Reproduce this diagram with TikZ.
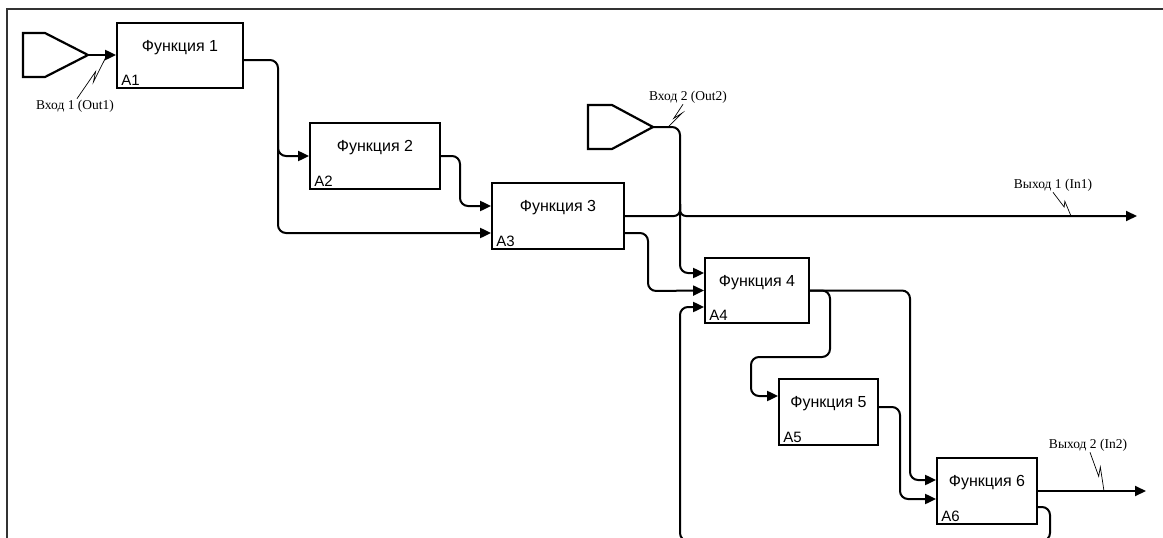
\documentclass[tikz,border=0pt]{standalone}
\usepackage{fontspec}
\setmainfont{Liberation Serif}
\newfontfamily\boxfont{Liberation Sans}
\usetikzlibrary{arrows.meta,calc}

\newcommand{\squig}[2]{\draw[zigline] (#1) -- ($(#1)!0.62!(#2)$) -- ($(#1)!0.38!(#2)+(5,0)$) -- (#2);}

\begin{document}
\begin{tikzpicture}[x=1pt, y=-1pt]
        \tikzstyle{func} = [rectangle, draw, line width=1.8pt]
        \tikzstyle{ftitle} = [font=\boxfont\fontsize{16}{19}\selectfont, anchor=base, inner sep=0pt]
        \tikzstyle{fnum} = [font=\boxfont\fontsize{15}{17}\selectfont, anchor=south west, inner sep=3pt, xshift=2pt]
        \tikzstyle{flow} = [line width=2pt, rounded corners=8pt]
        \tikzstyle{arrow} = [flow, -{Triangle[length=11pt,width=10pt]}]
        \tikzstyle{sig} = [font=\fontsize{13.5}{16}\selectfont, inner sep=1pt]
        \tikzstyle{zigline} = [line width=0.7pt]
        \tikzstyle{source} = [line width=2.2pt, line join=miter]

        \useasboundingbox (0,0) rectangle (1163,538);
        \clip (0,0) rectangle (1163,538);
        \draw [line width=1.8pt, black!80] (7,560) -- (7,9) -- (1180,9);

        % functions
        \node [func, minimum width=126pt, minimum height=65pt] (f1) at (180,55.5)  {};
        \node [func, minimum width=130pt, minimum height=66pt] (f2) at (375,156)   {};
        \node [func, minimum width=132pt, minimum height=66pt] (f3) at (558,216)   {};
        \node [func, minimum width=104pt, minimum height=65pt] (f4) at (757,290.5) {};
        \node [func, minimum width=99pt,  minimum height=66pt] (f5) at (828.5,412) {};
        \node [func, minimum width=100pt, minimum height=66pt] (f6) at (987,491)   {};

        \node [ftitle] (t1) at ([yshift=-29pt]f1.north) {Функция 1};
        \node [ftitle] (t2) at ([yshift=-29pt]f2.north) {Функция 2};
        \node [ftitle] (t3) at ([yshift=-29pt]f3.north) {Функция 3};
        \node [ftitle] (t4) at ([yshift=-29pt]f4.north) {Функция 4};
        \node [ftitle] (t5) at ([yshift=-29pt]f5.north) {Функция 5};
        \node [ftitle] (t6) at ([yshift=-29pt]f6.north) {Функция 6};

        \node [fnum] (a1) at (f1.south west) {A1};
        \node [fnum] (a2) at (f2.south west) {A2};
        \node [fnum] (a3) at (f3.south west) {A3};
        \node [fnum] (a4) at (f4.south west) {A4};
        \node [fnum] (a5) at (f5.south west) {A5};
        \node [fnum] (a6) at (f6.south west) {A6};

        % inputs
        \draw [source] (23,33) -- (45,33) -- (88,55) -- (45,77) -- (23,77) -- cycle;
        \coordinate (in1) at (88,55);
        \draw [source] (588,105) -- (612,105) -- (653,127) -- (612,149) -- (588,149) -- cycle;
        \coordinate (in2) at (653,127);
        \coordinate (j1) at (278,140);
        \coordinate (o1) at (1137,216);
        \coordinate (o2) at (1146,491);

        % arrows
        \draw [arrow] (in1) -- (in1 -| f1.west);
        \draw [arrow] ([yshift=-4.5pt]f1.east) -| (278,233) -- ([yshift=-17pt]f3.west);
        \draw [arrow] (j1) |- (f2.west);
        \draw [arrow] (f2.east) -| (460,206) -- ([yshift=10pt]f3.west);
        \draw [flow, rounded corners=6pt] (f3.east) -| (680,204);
        \draw [arrow, rounded corners=6pt] (680,204) |- (o1);
        \draw [arrow] ([yshift=-17pt]f3.east) -| (648,291) -- (f4.west);
        \draw [arrow] (in2) -| (680,273) -- ([yshift=17.5pt]f4.west);
        \draw [arrow] (f4.east) -| (910,480) -- ([yshift=11pt]f6.west);
        \draw [arrow] (f4.east) -| (830,357) -| (751,396) -- ([yshift=16pt]f5.west);
        \draw [arrow] ([yshift=5pt]f5.east) -| (900,499) -- ([yshift=-8pt]f6.west);
        \draw [arrow] (f6.east) -- (o2);
        \draw [arrow] ([yshift=-16pt]f6.east) -| (1050,541) -| (680,307) -- ([yshift=-16.5pt]f4.west);

        % labels
        \node [sig] (lin1)  at (75,106)   {Вход 1 (Out1)};
        \node [sig] (lin2)  at (688,97)   {Вход 2 (Out2)};
        \node [sig] (lout1) at (1053,185) {Выход 1 (In1)};
        \node [sig] (lout2) at (1088,445) {Выход 2 (In2)};
        \coordinate (z1) at (107,55);
        \coordinate (z2) at (668,127);
        \coordinate (z3) at (1071,216);
        \coordinate (z4) at (1104,491);
        \squig{[xshift=2pt]lin1.north}{z1}
        \squig{[xshift=-5pt]lin2.south}{z2}
        \squig{lout1.south}{z3}
        \squig{[xshift=2pt]lout2.south}{z4}
\end{tikzpicture}
\end{document}
